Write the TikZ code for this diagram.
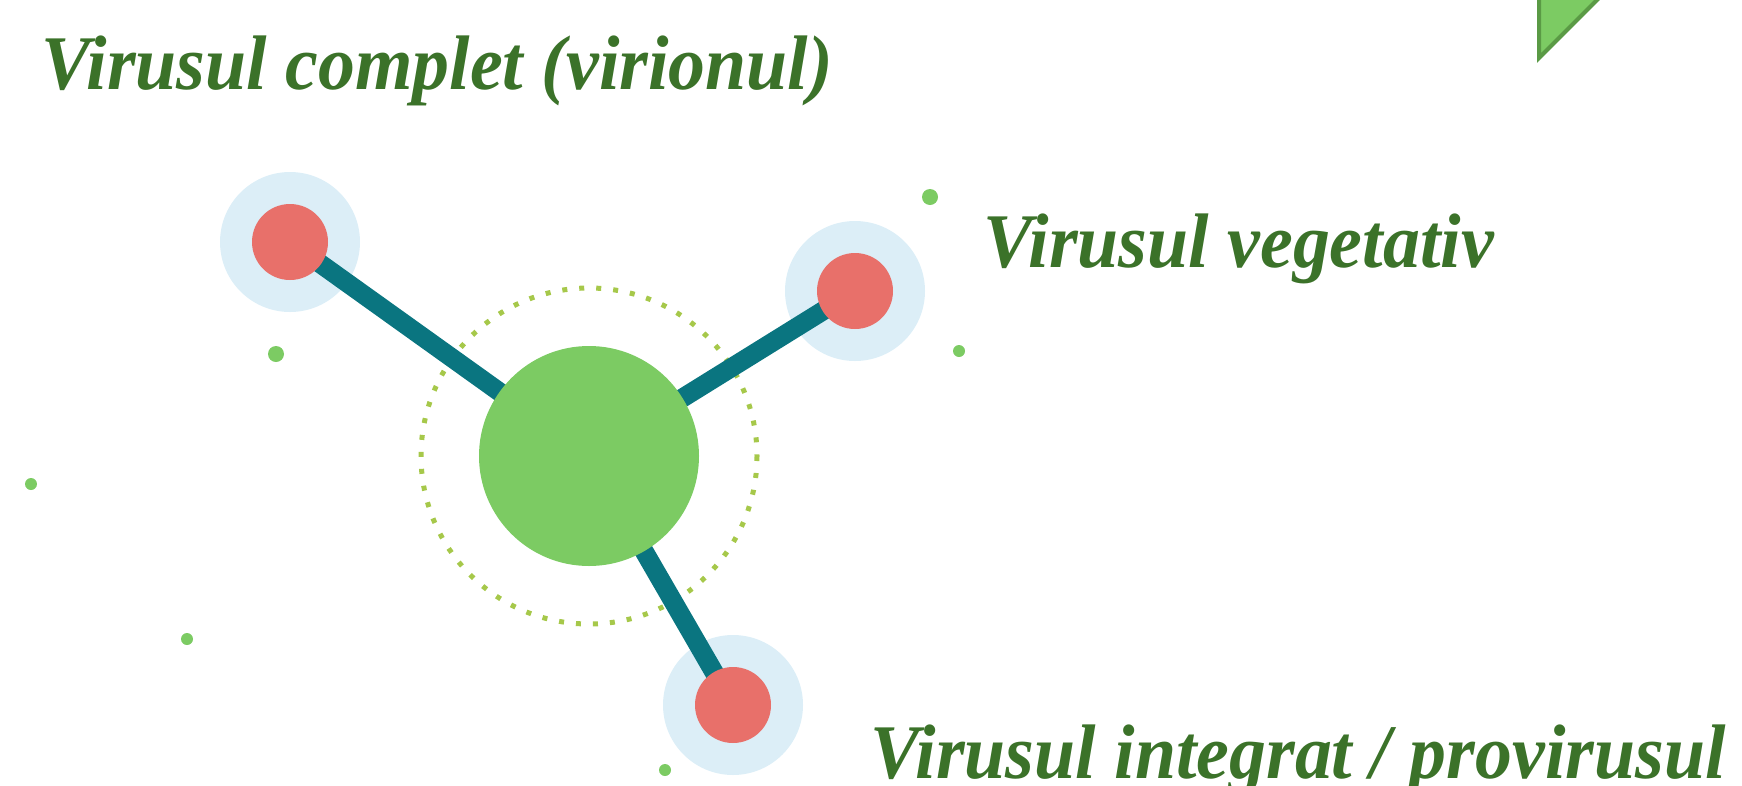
\documentclass[tikz,border=0pt]{standalone}
\usepackage{fontspec}
\setmainfont{Liberation Serif}
\newfontfamily\labelfont{Liberation Serif}[FakeStretch=0.955]
\usetikzlibrary{positioning}
\definecolor{leaf_green}{HTML}{7CCB63}
\definecolor{leaf_dark}{HTML}{5A9A45}
\definecolor{title_green}{HTML}{3B7229}
\definecolor{stem_teal}{HTML}{0A7580}
\definecolor{bud_red}{HTML}{E8706A}
\definecolor{halo_blue}{HTML}{DCEEF7}
\definecolor{ring_olive}{HTML}{A6C84A}
\pgfdeclarelayer{bg}
\pgfsetlayers{bg,main}

\begin{document}
\begin{tikzpicture}[x=0.02cm,y=-0.02cm,
		halo/.style={circle,minimum size=140*0.02cm,inner sep=0pt},
		bud/.style={circle,fill=bud_red,minimum size=76*0.02cm,inner sep=0pt},
		stem/.style={stem_teal,line width=19*0.02cm},
		speck/.style={fill=leaf_green},
		label/.style={anchor=base west,inner sep=0pt,text=title_green,
			font=\labelfont\fontsize{44}{50}\selectfont\bfseries\itshape}]
		\useasboundingbox (0,0) rectangle (1742,785);
		% corner triangle
		\filldraw[fill=leaf_green,draw=leaf_dark,line width=4*0.02cm] (1539,-10) -- (1539,58) -- (1607,-10) -- cycle;
		% the molecule
		\node[circle,fill=leaf_green,minimum size=220*0.02cm,inner sep=0pt] (core) at (589,456) {};
		\node[halo] (hvir) at (290,242) {};
		\node[halo] (hveg) at (855,291) {};
		\node[halo] (hpro) at (733,705) {};
		\node[bud] (vir) at (hvir) {};
		\node[bud] (veg) at (hveg) {};
		\node[bud] (pro) at (hpro) {};
		\begin{pgfonlayer}{bg}
			\draw[ring_olive,line width=5*0.02cm,dash pattern=on 5*0.02cm off 12*0.02cm] (core) circle (168);
			\fill[halo_blue] (hvir) circle (70) (hveg) circle (70) (hpro) circle (70);
			\foreach\b in {vir,veg,pro}
				\draw[stem] (\b.center) -- (core.center);
		\end{pgfonlayer}
		% loose specks
		\foreach\x/\y/\r in {930/197/8,959/351/6,276/354/8,31/484/6,187/639/6,665/770/6}
			\fill[speck] (\x,\y) circle (\r);
		% texts
		\node[label] (tvir) at (41,89) {Virusul complet (virionul)};
		\node[label] (tveg) at (983,267) {Virusul vegetativ};
		\node[label] (tpro) at (870,778) {Virusul integrat / provirusul};
	\end{tikzpicture}
\end{document}
